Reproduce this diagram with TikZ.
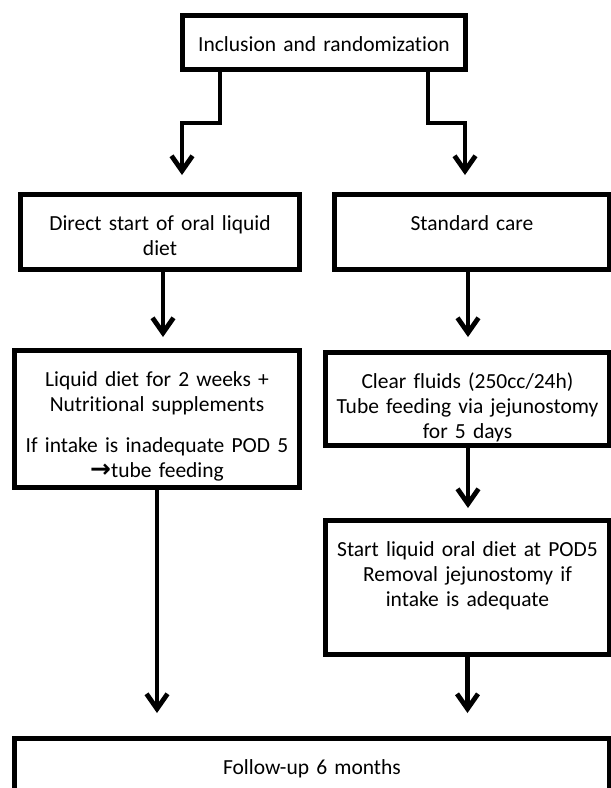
\documentclass[tikz,border=0pt]{standalone}
\usepackage{fontspec}
\setmainfont{Carlito}[WordSpace=0.7,Ligatures=CommonOff]
\newfontfamily\FCArrowFont{DejaVu Sans}
\usepackage{tikz}
\usetikzlibrary{arrows.meta}
\usetikzlibrary{calc}
\newcommand{\FCLineWidth}{4.8pt}
\newcommand{\FCTextHeight}{30pt}
\newcommand{\FCStage}[5]{
  \node [stage, text width=#3-10pt-\FCLineWidth, text depth=#4] (#1) at #2 {#5};
}
\begin{document}
\begin{tikzpicture}[x=1pt,y=-1pt,
  stage/.style={draw, line width=\FCLineWidth, anchor=north, align=center,
    inner xsep=5pt, inner ysep=6pt, text height=\FCTextHeight,
    font=\fontsize{21.5}{25}\selectfont},
  flow/.style={line width=\FCLineWidth,
    -{Straight Barb[length=15pt,width=21pt,line join=miter,line cap=butt]}}]
\useasboundingbox (0,0) rectangle (611,788);

\FCStage{incl}{(324,13)}{288pt}{12.2pt}{Inclusion and randomization}

\FCStage{direct}{(160,192)}{284pt}{33.2pt}{Direct start of oral liquid\\diet}
\FCStage{standard}{(472,192)}{280pt}{33.2pt}{Standard care}

\FCStage{liquid}{(157,348)}{290pt}{95.2pt}{Liquid diet for 2 weeks +\\Nutritional supplements\\[16pt]If intake is inadequate POD 5\\{\FCArrowFont\bfseries\fontsize{25}{25}\selectfont →}tube feeding}
\FCStage{clear}{(467.5,350)}{289pt}{51.2pt}{Clear fluids (250cc/24h)\\Tube feeding via jejunostomy\\for 5 days}

\FCStage{start}{(467.5,518)}{289pt}{92.2pt}{Start liquid oral diet at POD5\\Removal jejunostomy if\\intake is adequate}

\FCStage{follow}{(312,736)}{600pt}{47.2pt}{Follow-up 6 months}

\draw [flow] ($(incl.south west)+(40,0)$) -- ++(0,51) -| ($(direct.north)+(22,-17)$);
\draw [flow] ($(incl.south east)+(-40,0)$) -- ++(0,51) -| ($(standard.north)+(-7,-17)$);

\draw [flow] ($(direct.south)+(3,0)$) -- ($(direct.south |- liquid.north)+(3,-11)$);
\draw [flow] ($(standard.south)+(-4,0)$) -- ($(standard.south |- clear.north)+(-4,-13)$);
\draw [flow] ($(clear.south)+(0.5,0)$) -- ($(clear.south |- start.north)+(0.5,-10)$);

\draw [flow] (liquid.south) -- ($(liquid.south |- follow.north)+(0,-23)$);
\draw [flow] (start.south) -- ($(start.south |- follow.north)+(0,-23)$);

\end{tikzpicture}
\end{document}
